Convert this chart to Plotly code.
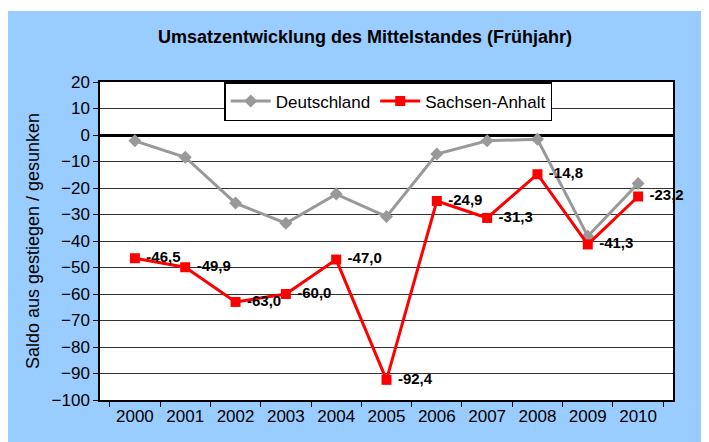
import plotly.graph_objects as go

years = ['2000', '2001', '2002', '2003', '2004', '2005', '2006', '2007', '2008', '2009', '2010']
deutschland = [-2.2, -8.4, -25.7, -33.3, -22.3, -30.8, -7.2, -2.2, -1.6, -38.2, -18.3]
sachsen_anhalt = [-46.5, -49.9, -63.0, -60.0, -47.0, -92.4, -24.9, -31.3, -14.8, -41.3, -23.2]

fig = go.Figure()

fig.add_trace(go.Scatter(
    x=years, y=deutschland,
    mode='lines+markers',
    name='Deutschland',
    line=dict(color='#999999', width=3),
    marker=dict(symbol='diamond', size=10, color='#999999')
))

fig.add_trace(go.Scatter(
    x=years, y=sachsen_anhalt,
    mode='lines+markers+text',
    name='Sachsen-Anhalt',
    line=dict(color='#ff0000', width=3),
    marker=dict(symbol='square', size=10, color='#ff0000'),
    texttemplate=' %{y:.1f}',
    textposition='middle right',
    cliponaxis=False,
    textfont=dict(family='Liberation Sans, Arial', size=15, color='black', weight='bold')
))

# blue chart area, white strip on top
fig.add_shape(type='rect', xref='paper', yref='paper',
              x0=-0.1606, x1=1.2, y0=-0.3, y1=1.223,
              fillcolor='#99ccff', line_width=0, layer='below')
fig.add_shape(type='rect', xref='paper', yref='paper',
              x0=0, x1=1, y0=0, y1=1,
              fillcolor='white', line_width=0, layer='below')

fig.update_layout(
    width=709, height=442,
    margin=dict(l=92, r=44, t=74, b=50),
    paper_bgcolor='white',
    plot_bgcolor='white',
    separators=',.',
    font=dict(family='Liberation Sans, Arial', size=16, color='black'),
    title=dict(text='<b>Umsatzentwicklung des Mittelstandes (Frühjahr)</b>',
               x=0.5035, xref='container', xanchor='center',
               y=0.935, yref='container', yanchor='middle',
               font=dict(size=18)),
    legend=dict(orientation='h', x=0.503, xanchor='center', y=1.0, yanchor='top',
                bgcolor='white', bordercolor='black', borderwidth=1.5,
                font=dict(size=17), itemwidth=40),
    showlegend=True,
)

fig.update_xaxes(
    type='category',
    showline=True, linecolor='black', linewidth=1.5, mirror=True,
    ticks='outside', tickson='boundaries', ticklen=5, tickcolor='black',
    showgrid=False,
    tickfont=dict(size=17)
)

fig.update_yaxes(
    range=[-100, 20], dtick=10,
    showline=True, linecolor='black', linewidth=1.5, mirror=True,
    ticks='outside', ticklen=5, tickcolor='black',
    showgrid=True, gridcolor='#333333', gridwidth=1,
    zeroline=True, zerolinecolor='black', zerolinewidth=2.5,
    tickfont=dict(size=17),
    title=dict(text='Saldo aus gestiegen / gesunken', font=dict(size=18), standoff=7)
)

fig.write_html("out.html")
